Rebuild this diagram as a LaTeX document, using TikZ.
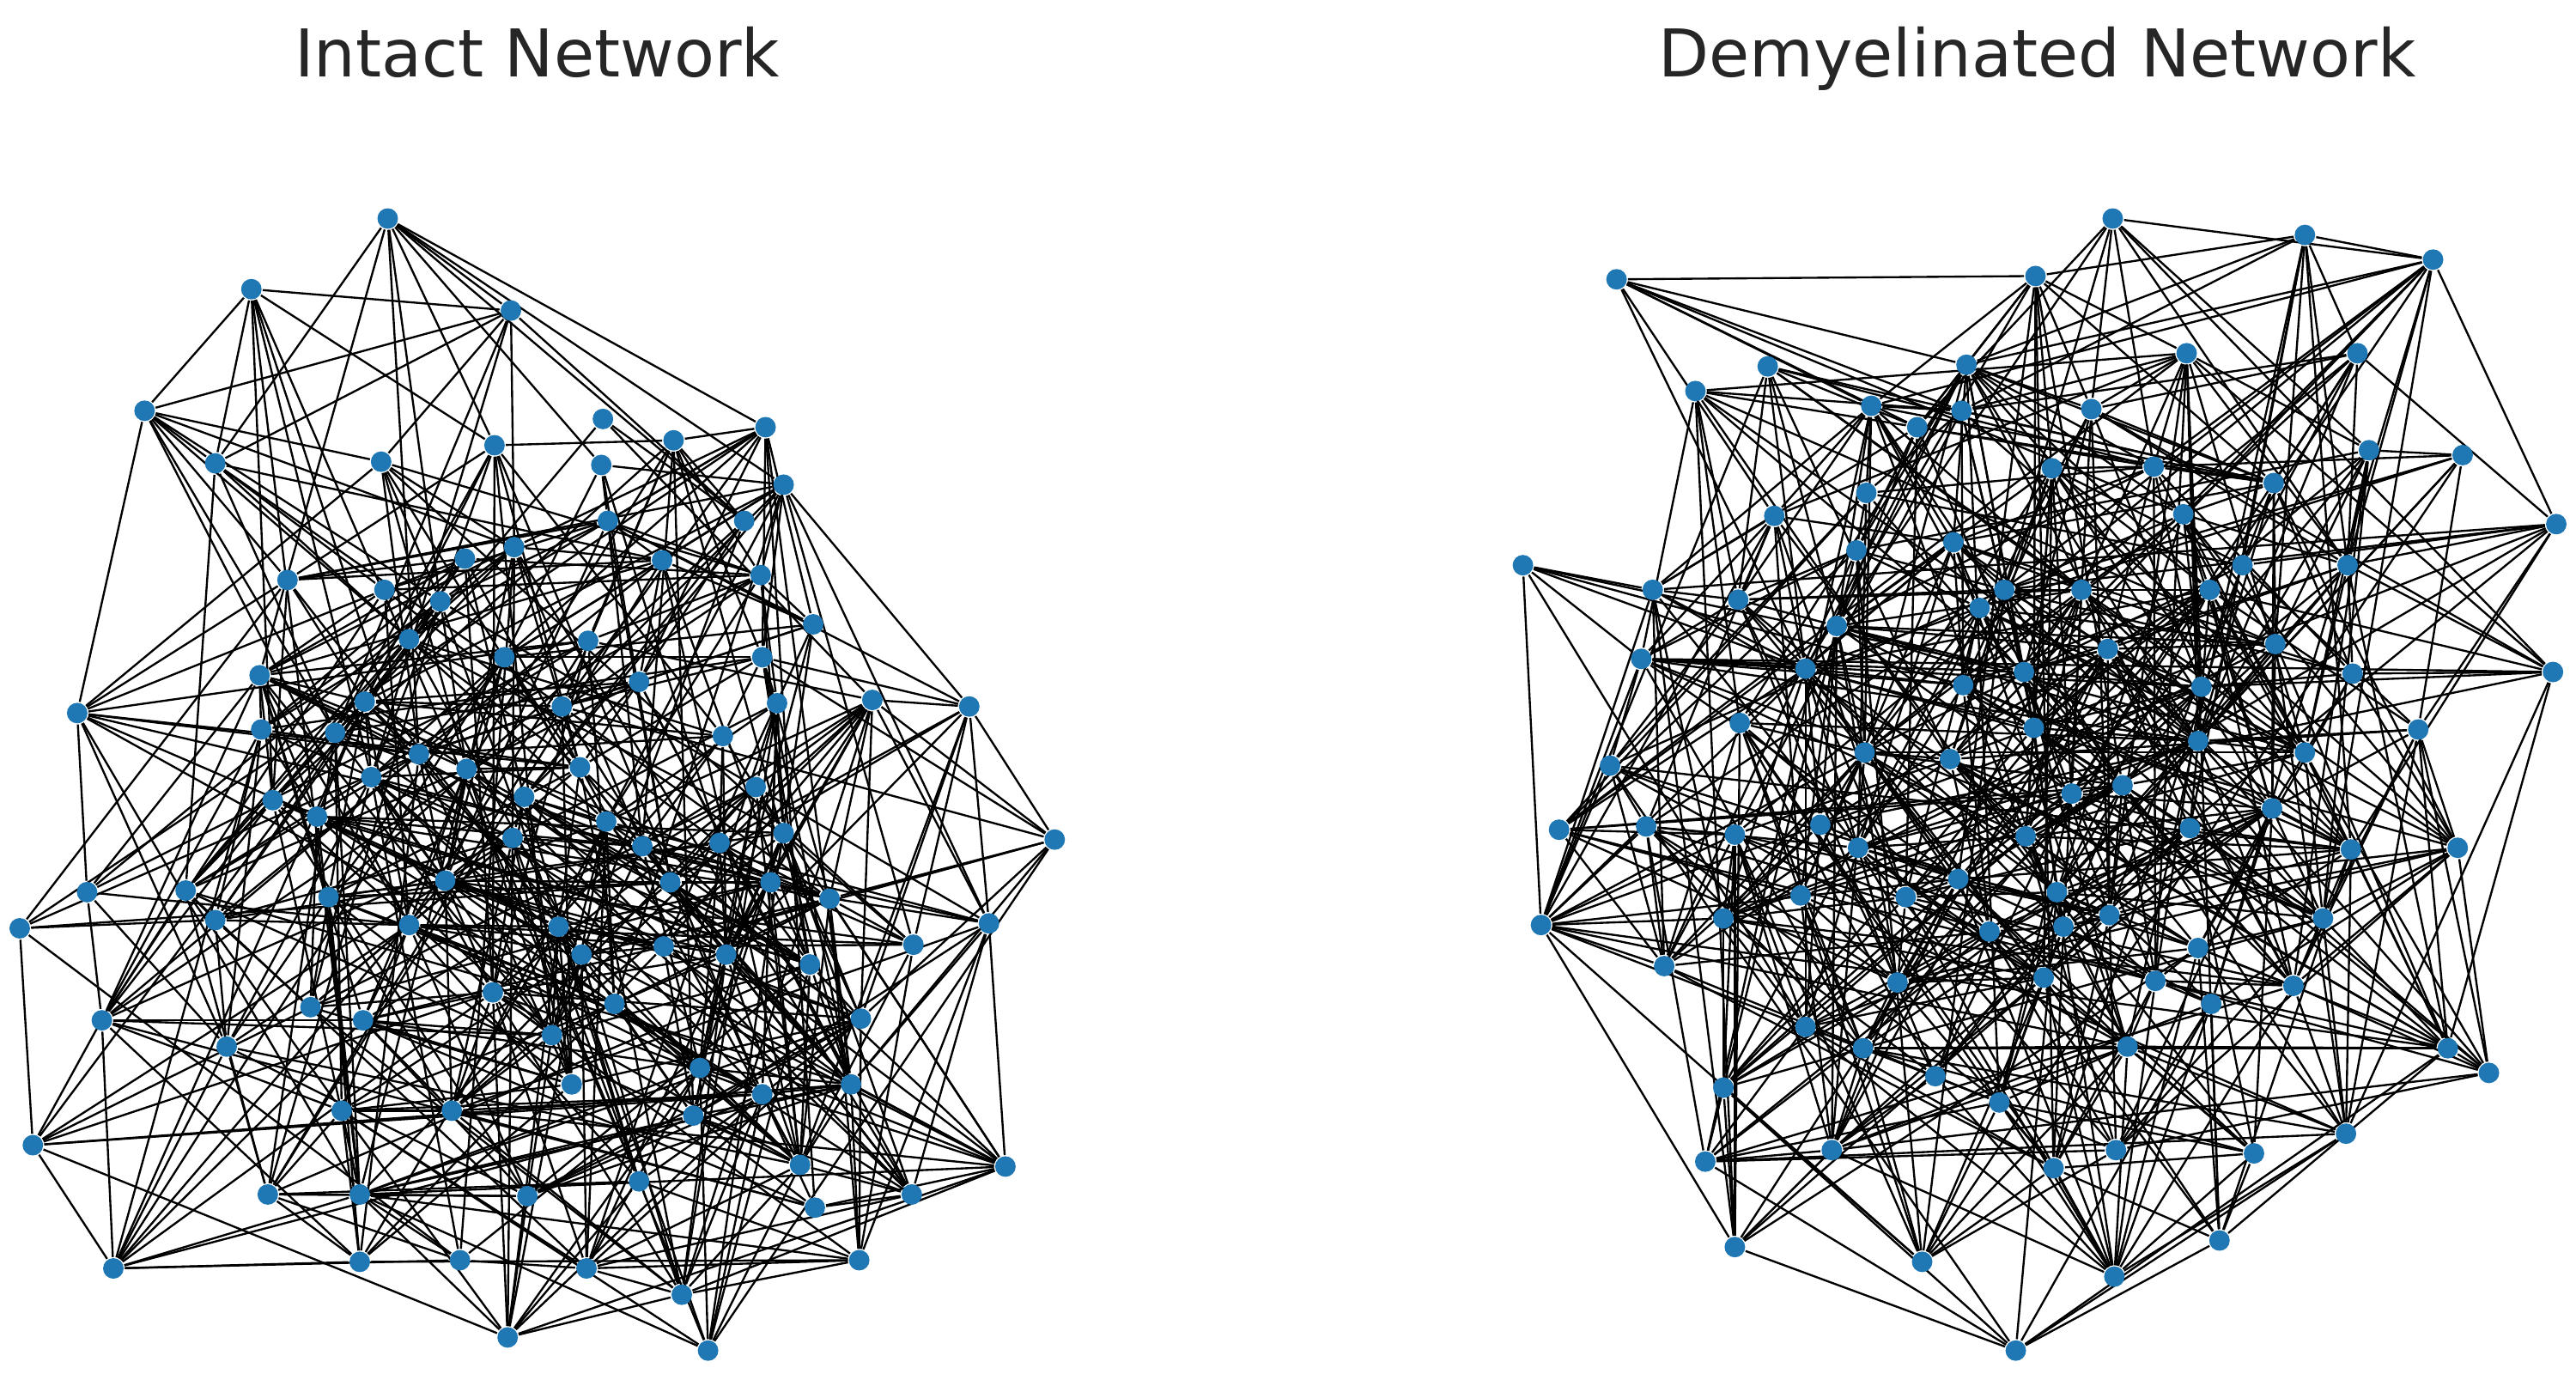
\documentclass[tikz,border=0pt]{standalone}
\usepackage{fontspec}
\setmainfont{DejaVu Sans}
\definecolor{nodeblue}{HTML}{1F77B4}
\definecolor{titlegray}{HTML}{262626}
\pgfdeclarelayer{edges}
\pgfsetlayers{edges,main}
\tikzset{
  dot/.style={circle,fill=nodeblue,inner sep=0pt,minimum size=0.125cm,draw=none},
  link/.style={draw=black,line width=0.35pt},
  ttl/.style={font=\fontsize{11.4}{13}\selectfont,text=titlegray,anchor=base,inner sep=0pt}
}
\begin{document}
\begin{tikzpicture}[x=0.01cm,y=-0.01cm]
\useasboundingbox (0,0) rectangle (1568,836);
\node[ttl] (t1) at (327,47) {Intact Network};
\node[ttl] (t2) at (1240,47) {Demyelinated Network};
% ---------- intact network nodes
\foreach [count=\i] \x/\y in {
236/133,153/176,311/189,88/250,131/282,232/281,301/271,175/353,234/359,268/366,
283/340,313/333,249/389,307/400,158/411,47/434,159/444,204/446,222/427,255/459,
284/468,226/473,166/487,319/485,367/255,466/260,410/268,366/283,477/295,370/317,
453/317,403/341,463/350,495/380,358/390,464/400,389/415,342/430,473/428,531/426,
590/430,440/448,353/467,460/479,193/497,312/510,271/536,53/543,113/542,200/546,
12/565,131/560,249/563,300/604,189/613,221/621,62/621,138/637,336/630,208/676,
275/676,20/697,163/727,219/727,321/728,69/772,219/768,280/767,309/814,369/500,
477/507,391/515,438/513,642/511,408/537,469/537,505/547,602/562,340/564,556/575,
354/581,404/576,442/581,493/587,374/611,524/620,426/650,348/660,464/666,518/660,
422/679,487/709,612/710,389/719,496/735,555/727,357/772,523/767,415/788,431/822}{
  \node[dot] (a\i) at (\x,\y) {};
  \pgfmathsetmacro\rq{((\x-330)/100)^2+((\y-480)/100)^2}
  \expandafter\xdef\csname ax\i\endcsname{\x}
  \expandafter\xdef\csname ay\i\endcsname{\y}
  \expandafter\xdef\csname aq\i\endcsname{\rq}
}
% ---------- demyelinated network nodes
\foreach [count=\i] \x/\y in {
984/170,1239/168,1076/223,1032/238,1197/222,1139/247,1194/250,1167/260,1249/285,1136/300,
1080/314,1130/335,1189/330,927/344,1006/359,1058/365,1220/359,1205/370,1118/381,999/401,
1099/407,1195/417,1232/409,1059/440,1238/443,1135/458,1187/462,980/466,1286/133,1403/143,
1481/158,1331/215,1435/215,1273/249,1442/274,1499/277,1311/284,1384/294,1329/313,1556/319,
1365/344,1429/344,1267/359,1345/359,1283/395,1385/392,1432/410,1554/409,1340/418,1472/444,
1338/451,1403/458,1292/478,1261/483,949/505,1002/503,1056/508,1108/502,1131/516,1233/509,
1192/535,1096/545,1160/546,938/563,1049/559,1211/567,1013/588,1155/598,1244/595,1099/625,
1134/638,1178/655,1049/662,1217/671,1115/700,1038/707,1250/711,1056/759,1170/768,1227/822,
1383/492,1333/504,1431/517,1496/516,1252/543,1284/557,1256/564,1414/559,1338/577,1312/597,
1396/600,1346/611,1295/637,1490/638,1515/653,1428/690,1372/702,1288/700,1351/755,1287/777}{
  \node[dot] (b\i) at (\x,\y) {};
  \pgfmathsetmacro\rq{((\x-1240)/100)^2+((\y-480)/100)^2}
  \expandafter\xdef\csname bx\i\endcsname{\x}
  \expandafter\xdef\csname by\i\endcsname{\y}
  \expandafter\xdef\csname bq\i\endcsname{\rq}
}
% ---------- connectors
\begin{pgfonlayer}{edges}
\pgfmathsetseed{4711}
\foreach \i in {1,...,99} {
  \pgfmathtruncatemacro\js{\i+1}
  \foreach \j in {\js,...,100} {
    \pgfmathsetmacro\pr{0.38*exp(-(((\csname ax\i\endcsname-\csname ax\j\endcsname)/100)^2+((\csname ay\i\endcsname-\csname ay\j\endcsname)/100)^2)/(3+0.35*(\csname aq\i\endcsname+\csname aq\j\endcsname)))+0.008}
    \pgfmathsetmacro\rr{rnd}
    \ifdim\rr pt<\pr pt \draw[link] (a\i) -- (a\j); \fi
  }
}
\pgfmathsetseed{2024}
\foreach \i in {1,...,99} {
  \pgfmathtruncatemacro\js{\i+1}
  \foreach \j in {\js,...,100} {
    \pgfmathsetmacro\pr{0.42*exp(-(((\csname bx\i\endcsname-\csname bx\j\endcsname)/100)^2+((\csname by\i\endcsname-\csname by\j\endcsname)/100)^2)/(3+0.35*(\csname bq\i\endcsname+\csname bq\j\endcsname)))+0.008}
    \pgfmathsetmacro\rr{rnd}
    \ifdim\rr pt<\pr pt \draw[link] (b\i) -- (b\j); \fi
  }
}
\end{pgfonlayer}
\end{tikzpicture}
\end{document}
